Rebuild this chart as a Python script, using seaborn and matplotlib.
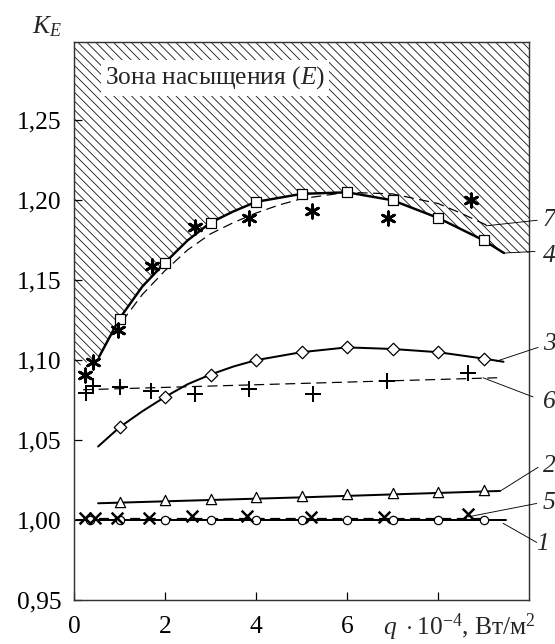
import matplotlib
matplotlib.use("Agg")
import matplotlib.pyplot as plt
import seaborn as sns

# --- data (q in 10^4 W/m^2, K_E) ---
# 1: circles, solid
q1 = [0.35, 1, 2, 3, 4, 5, 6, 7, 8, 9]
k1 = [1.000, 1.000, 1.000, 1.000, 1.000, 1.000, 1.000, 1.000, 1.000, 1.000]
line1_q = [0.05, 9.5]
line1_k = [1.000, 1.000]

# 2: triangles, solid
q2 = [1, 2, 3, 4, 5, 6, 7, 8, 9]
k2 = [1.0115, 1.0125, 1.0133, 1.0142, 1.0150, 1.0160, 1.0168, 1.0177, 1.0186]
line2_q = [0.53, 5.0, 9.36]
line2_k = [1.0105, 1.0142, 1.0182]

# 3: diamonds, solid
q3 = [1, 2, 3, 4, 5, 6, 7, 8, 9]
k3 = [1.058, 1.077, 1.091, 1.100, 1.105, 1.108, 1.107, 1.105, 1.101]
line3_q = [0.53, 1.0, 1.5, 2.0, 2.5, 3.0, 3.5, 4.0, 5.0, 6.0, 7.0, 8.0, 9.0, 9.44]
line3_k = [1.046, 1.058, 1.068, 1.077, 1.085, 1.091, 1.096, 1.100, 1.105, 1.108,
           1.107, 1.105, 1.101, 1.099]

# 4: squares, solid (boundary of the saturation zone)
q4 = [1, 2, 3, 4, 5, 6, 7, 8, 9]
k4 = [1.126, 1.161, 1.186, 1.199, 1.204, 1.205, 1.200, 1.189, 1.175]
line4_q = [0.55, 1.0, 1.5, 2.0, 2.5, 3.0, 3.5, 4.0, 5.0, 6.0, 7.0, 8.0, 9.0, 9.45]
line4_k = [1.102, 1.126, 1.146, 1.161, 1.175, 1.186, 1.193, 1.199, 1.204, 1.205,
           1.200, 1.189, 1.175, 1.167]

# 5: crosses, dashed
q5 = [0.24, 0.46, 0.95, 1.65, 2.6, 3.8, 5.2, 6.81, 8.67]
k5 = [1.0015, 1.0015, 1.0015, 1.001, 1.0025, 1.0027, 1.002, 1.0017, 1.004]
line5_q = [0.2, 9.0]
line5_k = [1.0015, 1.0015]

# 6: plus signs, dashed
q6 = [0.26, 0.42, 1.01, 1.69, 2.67, 3.85, 5.26, 6.89, 8.67]
k6 = [1.0796, 1.084, 1.083, 1.081, 1.079, 1.082, 1.079, 1.087, 1.092]
line6_q = [0.2, 9.3]
line6_k = [1.0815, 1.089]

# 7: asterisks, dashed
q7 = [0.24, 0.42, 0.97, 1.71, 2.66, 3.85, 5.24, 6.91, 8.73]
k7 = [1.091, 1.099, 1.119, 1.159, 1.183, 1.189, 1.193, 1.189, 1.200]
line7_q = [1.05, 1.5, 2.0, 2.5, 3.0, 3.5, 4.0, 4.5, 5.0, 6.0, 7.0, 8.0, 8.5, 9.1]
line7_k = [1.124, 1.141, 1.156, 1.169, 1.179, 1.186, 1.192, 1.197, 1.201, 1.205,
           1.204, 1.198, 1.192, 1.184]

# hatched zone: lower edge follows curve 4
hatch_q = [0.0] + line4_q + [10.0]
hatch_k = [1.095] + line4_k + [line4_k[-1]]

x_ticks = [0, 2, 4, 6, 8]
x_tick_labels = ["0", "2", "4", "6", ""]
y_ticks = [0.95, 1.00, 1.05, 1.10, 1.15, 1.20, 1.25]
y_tick_labels = ["0,95", "1,00", "1,05", "1,10", "1,15", "1,20", "1,25"]

# curve labels: (text, text position, leader start, leader end)
curve_labels = [
    ("7", (10.44, 1.1875), (9.05, 1.184), (10.18, 1.1875)),
    ("4", (10.44, 1.1650), (9.45, 1.167), (10.13, 1.168)),
    ("3", (10.44, 1.1100), (9.29, 1.0994), (10.20, 1.108)),
    ("6", (10.44, 1.0740), (8.99, 1.089), (10.09, 1.077)),
    ("2", (10.44, 1.0335), (9.36, 1.018), (10.20, 1.033)),
    ("5", (10.44, 1.0105), (8.66, 1.002), (10.17, 1.0104)),
    ("1", (10.30, 0.9850), (9.43, 0.998), (10.17, 0.9860)),
]

# --- style ---
sns.set_theme(style="ticks")
plt.rcParams["font.family"] = ["Liberation Serif", "DejaVu Serif"]
plt.rcParams["mathtext.fontset"] = "custom"
plt.rcParams["mathtext.rm"] = "Liberation Serif"
plt.rcParams["mathtext.it"] = "Liberation Serif:italic"
plt.rcParams["mathtext.bf"] = "Liberation Serif:bold"
plt.rcParams["hatch.linewidth"] = 0.8
plt.rcParams["hatch.color"] = "#222222"
plt.rcParams["lines.scale_dashes"] = False

FS = 23
DPI = 80
fig = plt.figure(figsize=(555 / DPI, 644 / DPI), dpi=DPI)
ax = fig.add_axes([74 / 555, 44 / 644, 455 / 555, 558 / 644])

ax.fill_between(hatch_q, hatch_k, 1.30, facecolor="white", edgecolor="#222222",
                hatch="\\\\\\", linewidth=0, zorder=0)

dash = (0, (9, 5))
solid_lw = 1.8
sns.lineplot(x=line1_q, y=line1_k, color="black", lw=solid_lw, ax=ax, zorder=2)
sns.lineplot(x=line2_q, y=line2_k, color="black", lw=solid_lw, ax=ax, zorder=2)
sns.lineplot(x=line3_q, y=line3_k, color="black", lw=solid_lw, ax=ax, zorder=2)
sns.lineplot(x=line4_q, y=line4_k, color="black", lw=2.2, ax=ax, zorder=2)
sns.lineplot(x=line5_q, y=line5_k, color="black", lw=1.1, linestyle=dash, ax=ax, zorder=2)
sns.lineplot(x=line6_q, y=line6_k, color="black", lw=1.1, linestyle=dash, ax=ax, zorder=2)
sns.lineplot(x=line7_q, y=line7_k, color="black", lw=1.1, linestyle=dash, ax=ax, zorder=2)

open_kw = dict(color="white", edgecolor="black", linewidth=1.1, ax=ax, zorder=4)
sns.scatterplot(x=q1, y=k1, marker="o", s=56, **open_kw)
sns.scatterplot(x=q2, y=k2, marker="^", s=85, **open_kw)
sns.scatterplot(x=q3, y=k3, marker="D", s=64, **open_kw)
sns.scatterplot(x=q4, y=k4, marker="s", s=88, **open_kw)
sns.scatterplot(x=q5, y=k5, marker="x", s=110, color="black", linewidth=2.2, ax=ax, zorder=5)
sns.scatterplot(x=q6, y=k6, marker="+", s=220, color="black", linewidth=1.8, ax=ax, zorder=5)
sns.scatterplot(x=q7, y=k7, marker=(6, 2, 0), s=145, color="black", linewidth=2.5,
                ax=ax, zorder=5)

for text, pos, start, end in curve_labels:
    ax.plot([start[0], end[0]], [start[1], end[1]], color="black", lw=0.8,
            clip_on=False, zorder=3)
    ax.text(pos[0], pos[1], text, style="italic", fontsize=FS,
            ha="center", va="center", clip_on=False)

ax.text(0.068, 0.925, "Зона насыщения $(E)$", transform=ax.transAxes,
        fontsize=FS, ha="left", va="baseline", zorder=6,
        bbox=dict(facecolor="white", edgecolor="none", pad=4))

ax.set_xlim(0, 10)
ax.set_ylim(0.95, 1.299)
ax.set_xticks(x_ticks)
ax.set_xticklabels(x_tick_labels)
ax.set_yticks(y_ticks)
ax.set_yticklabels(y_tick_labels)
ax.tick_params(direction="in", length=7, width=1.1, labelsize=FS, colors="black")
ax.tick_params(axis="y", pad=11)
ax.tick_params(axis="x", pad=14)
for sp in ax.spines.values():
    sp.set_visible(True)
    sp.set_linewidth(1.3)
    sp.set_color("#333333")
ax.set_xlabel("")
ax.set_ylabel("")

fig.text(47 / 555, 1 - 27 / 644, "$K_E$", fontsize=FS, ha="center", va="center")
fig.text(383 / 555, 9 / 644, "$q\\ \\cdot 10^{-4}$, Вт/м$^2$", fontsize=FS,
         ha="left", va="baseline")

fig.savefig("out.png", dpi=DPI)
